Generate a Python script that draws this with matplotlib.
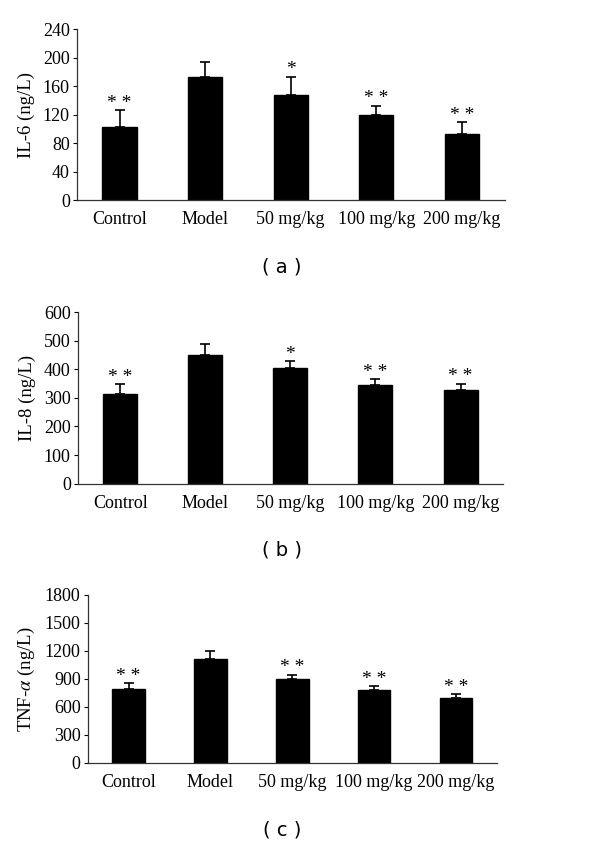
import matplotlib
matplotlib.use("Agg")
import matplotlib.pyplot as plt
import numpy as np

categories = ["Control", "Model", "50 mg/kg", "100 mg/kg", "200 mg/kg"]

il6_mean = [103, 173, 147, 119, 92]
il6_err = [23, 21, 26, 13, 17]
il6_sig = ["* *", "", "*", "* *", "* *"]

il8_mean = [315, 451, 404, 345, 327]
il8_err = [33, 38, 24, 20, 23]
il8_sig = ["* *", "", "*", "* *", "* *"]

tnf_mean = [786, 1114, 900, 779, 693]
tnf_err = [64, 86, 43, 39, 39]
tnf_sig = ["* *", "", "* *", "* *", "* *"]

panels = [
    dict(mean=il6_mean, err=il6_err, sig=il6_sig, ylabel="IL-6 (ng/L)",
         yticks=[0, 40, 80, 120, 160, 200, 240], ymax=240, caption="( a )",
         rect=[0.128, 0.763, 0.713, 0.2026], cap_y=267, ylab_x=-0.098),
    dict(mean=il8_mean, err=il8_err, sig=il8_sig, ylabel="IL-8 (ng/L)",
         yticks=[0, 100, 200, 300, 400, 500, 600], ymax=600, caption="( b )",
         rect=[0.1295, 0.4269, 0.709, 0.2034], cap_y=550, ylab_x=-0.098),
    dict(mean=tnf_mean, err=tnf_err, sig=tnf_sig, ylabel="TNF-$\\alpha$ (ng/L)",
         yticks=[0, 300, 600, 900, 1200, 1500, 1800], ymax=1800, caption="( c )",
         rect=[0.146, 0.0963, 0.682, 0.199], cap_y=830, ylab_x=-0.124),
]

plt.rcParams['font.family'] = ['Liberation Serif', 'DejaVu Serif']
plt.rcParams['mathtext.fontset'] = 'stix'

fig = plt.figure(figsize=(6.0, 8.44), dpi=100)

for p in panels:
    ax = fig.add_axes(p["rect"])
    x = np.arange(len(categories))
    ax.bar(x, p["mean"], width=0.4, color="black", edgecolor="black", zorder=2)
    ax.errorbar(x, p["mean"], yerr=[np.zeros(len(x)), p["err"]], fmt="none",
                ecolor="black", elinewidth=1.2, capsize=3.5, capthick=1.2, zorder=3)
    for xi, m, e, s in zip(x, p["mean"], p["err"], p["sig"]):
        if s:
            ax.annotate(s, (xi, m + e), xytext=(0, -1), textcoords="offset points",
                        ha="center", va="bottom", fontsize=14)
    ax.set_xlim(-0.5, len(categories) - 0.5)
    ax.set_ylim(0, p["ymax"])
    ax.set_yticks(p["yticks"])
    ax.set_xticks(x)
    ax.set_xticklabels(categories, fontsize=13)
    ax.tick_params(axis="x", length=0, pad=8)
    ax.tick_params(axis="y", length=3, width=0.8, direction="out", labelsize=13, pad=2)
    for side in ["top", "right"]:
        ax.spines[side].set_visible(False)
    for side in ["left", "bottom"]:
        ax.spines[side].set_linewidth(0.9)
        ax.spines[side].set_color("#333333")
    ax.set_ylabel(p["ylabel"], fontsize=13.5)
    ax.yaxis.set_label_coords(p["ylab_x"], 0.5)
    fig.text(0.47, 1 - p["cap_y"] / 844, p["caption"], ha="center", va="center",
             fontsize=14, family=["DejaVu Sans"])

fig.savefig("out.png", dpi=100, facecolor="white")
